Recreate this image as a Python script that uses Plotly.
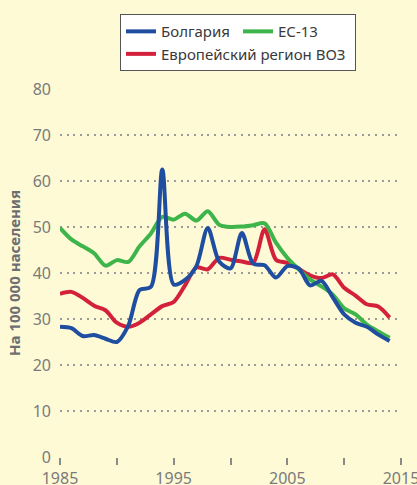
import plotly.graph_objects as go

years = list(range(1985, 2015))

bulgaria = [28.3, 28.0, 26.3, 26.5, 25.7, 25.0, 28.5, 36.3, 37.0, 62.5,
            37.5, 38.5, 41.5, 49.8, 42.5, 41.0, 48.7, 42.0, 41.7, 39.0,
            41.5, 41.0, 37.3, 38.3, 34.7, 31.0, 29.2, 28.3, 26.6, 25.2]

ec13 = [49.8, 47.3, 45.8, 44.3, 41.6, 42.8, 42.4, 45.8, 48.6, 52.2,
        51.6, 52.9, 51.4, 53.4, 50.5, 50.0, 50.1, 50.4, 50.8, 46.6,
        43.3, 40.8, 38.6, 37.1, 35.3, 32.3, 31.0, 28.8, 27.3, 25.9]

euro_who = [35.5, 35.9, 34.6, 32.9, 31.9, 29.2, 28.3, 29.2, 31.0, 32.8,
            33.7, 37.3, 41.2, 40.8, 43.3, 42.9, 42.5, 42.2, 49.5, 42.9,
            42.2, 40.9, 39.5, 38.9, 39.7, 36.8, 35.1, 33.2, 32.7, 30.3]

series_names = ["Болгария", "ЕС-13", "Европейский регион ВОЗ"]
series_colors = ["#1f4ea1", "#3db54a", "#d3213b"]

y_ticks = [0, 10, 20, 30, 40, 50, 60, 70, 80]
x_ticks = [1985, 1995, 2005, 2015]

fig = go.Figure()
ranks = {"Болгария": 1, "ЕС-13": 2, "Европейский регион ВОЗ": 3}
order = [2, 1, 0]  # draw red first, then green, blue on top
for i in order:
    name = series_names[i]
    vals = [bulgaria, ec13, euro_who][i]
    fig.add_trace(go.Scatter(
        x=years, y=vals, name=name, mode="lines", legendrank=ranks[name],
        line=dict(color=series_colors[i], width=4, shape="spline", smoothing=0.8),
    ))

fig.update_layout(
    width=417, height=485,
    paper_bgcolor="#fffad6", plot_bgcolor="#fffad6",
    margin=dict(l=60, r=16, t=89, b=27.5, autoexpand=False),
    font=dict(family="Noto Sans", color="#7a7a7a"),
    showlegend=True,
    legend=dict(
        orientation="h", traceorder="normal",
        x=0.176, y=1.2035, xanchor="left", yanchor="top",
        bgcolor="#ffffff", bordercolor="#555555", borderwidth=1,
        font=dict(family="Noto Sans", size=15, color="#3a3a3a"),
        entrywidth=72, itemwidth=30,
    ),
    xaxis=dict(
        range=[1985, 2015], tickvals=x_ticks, ticktext=[str(v) for v in x_ticks],
        showgrid=False, zeroline=False, showline=False,
        ticks="outside", ticklen=7, tickwidth=1.5, tickcolor="#8a8a8a",
        minor=dict(dtick=5, tick0=1985, ticks="outside", ticklen=7, tickwidth=1.5,
                   tickcolor="#8a8a8a", showgrid=False),
        tickfont=dict(size=16, color="#7a7a7a"),
        ticklabeloverflow="allow",
    ),
    yaxis=dict(
        range=[0, 80], tickvals=y_ticks,
        showgrid=True, gridcolor="#9a9a9a", gridwidth=2, griddash="2px,4.7px",
        zeroline=False, showline=False, ticks="", ticklabelstandoff=8,
        tickfont=dict(size=16, color="#7a7a7a"),
        title=dict(text="<b>На 100 000 населения</b>", standoff=8,
                   font=dict(size=15, color="#6d6e71")),
    ),
)

fig.write_html(
    "out.html",
    config={"displayModeBar": False},
    post_script="document.body.style.margin='0';document.body.style.overflow='hidden';",
)
